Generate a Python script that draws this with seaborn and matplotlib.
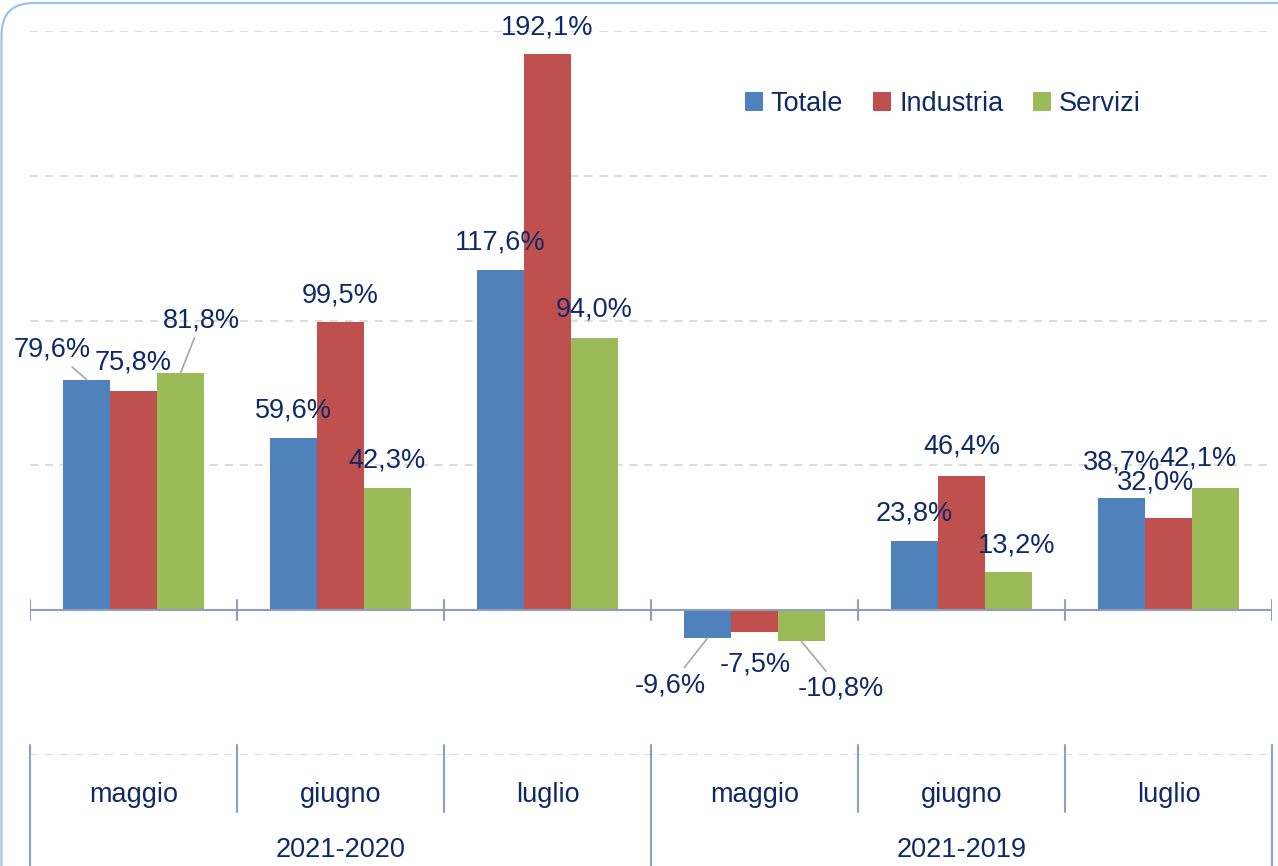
import matplotlib
matplotlib.use("Agg")
import matplotlib.pyplot as plt
from matplotlib.patches import FancyBboxPatch
import seaborn as sns
import pandas as pd

# --- data ---
months = ["maggio", "giugno", "luglio", "maggio", "giugno", "luglio"]
periods = ["2021-2020", "2021-2019"]
series = ["Totale", "Industria", "Servizi"]
totale = [79.6, 59.6, 117.6, -9.6, 23.8, 38.7]
industria = [75.8, 99.5, 192.1, -7.5, 46.4, 32.0]
servizi = [81.8, 42.3, 94.0, -10.8, 13.2, 42.1]

colors = ["#4F81BD", "#C0504D", "#9BBB59"]
text_col = "#0E2A66"
axis_col = "#8EA0BA"
fs = 19.5

keys = [f"{periods[i // 3]} {m}" for i, m in enumerate(months)]
rows = []
for name, vals in zip(series, [totale, industria, servizi]):
    for k, v in zip(keys, vals):
        rows.append({"key": k, "serie": name, "val": v})
df = pd.DataFrame(rows)

sns.set_style("white")
plt.rcParams["font.family"] = ["Liberation Sans", "DejaVu Sans"]

fig = plt.figure(figsize=(12.78, 8.66), dpi=100)
ax = fig.add_axes([30 / 1278, 1 - 755 / 866, 1242 / 1278, 724 / 866])

sns.barplot(data=df, x="key", y="val", hue="serie", order=keys, hue_order=series,
            palette=colors, width=0.68, saturation=1, errorbar=None,
            linewidth=0, ax=ax)

ax.set_xlim(-0.5, 5.5)
ax.set_ylim(-50, 200)
for s in ax.spines.values():
    s.set_visible(False)
ax.set_xticks([])
ax.set_yticks([])
ax.set_xlabel("")
ax.set_ylabel("")

# dashed gridlines
for g in [-50, 50, 100, 150, 200]:
    ax.axhline(g, color="#D9D9D9", lw=1.3, dashes=(4.5, 3.8), zorder=0)

# zero axis with ticks at group boundaries
ax.axhline(0, color=axis_col, lw=1.5, zorder=3)
for i in range(7):
    b = -0.5 + i
    ax.plot([b, b], [-3.5, 3.5], color=axis_col, lw=1.5, zorder=3)
    low = -95 if i in (0, 3, 6) else -69.7
    ax.plot([b, b], [-46.6, low], color=axis_col, lw=1.5, clip_on=False)

# category labels
for i, m in enumerate(months):
    ax.text(i, -63.8, m, ha="center", va="center", fontsize=fs, color=text_col,
            clip_on=False)
for j, p in enumerate(periods):
    ax.text(1 + 3 * j, -82.8, p, ha="center", va="center", fontsize=fs,
            color=text_col, clip_on=False)

# value labels: offsets in pixels (dx, dy) from bar end
offsets = [
    [(-34, 30), (0, 27), (0, 27), (-37, -47), (0, 28), (0, 36)],
    [(0, 28), (0, 27), (0, 26), (1, -33), (0, 29), (-13, 35)],
    [(21, 53), (0, 27), (0, 28), (39, -47), (8, 26), (-17, 30)],
]
leaders = {(0, 0), (2, 0), (0, 3), (2, 3)}
for si, cont in enumerate(ax.containers):
    for bi, bar in enumerate(cont):
        v = [totale, industria, servizi][si][bi]
        x = bar.get_x() + bar.get_width() / 2
        dx, dy = offsets[si][bi]
        lab = f"{v:.1f}%".replace(".", ",")
        arrow = None
        if (si, bi) in leaders:
            arrow = dict(arrowstyle="-", color="#A6A6A6", lw=1.2,
                         shrinkA=1, shrinkB=0)
        ax.annotate(lab, xy=(x, v), xytext=(dx * 0.72, dy * 0.72),
                    textcoords="offset points", ha="center", va="center",
                    fontsize=fs, color=text_col, arrowprops=arrow, zorder=5)

# legend
h, l = ax.get_legend_handles_labels()
ax.legend(h, l, ncol=3, frameon=False, loc="center",
          bbox_to_anchor=(0.735, 0.899), fontsize=fs, labelcolor=text_col,
          handlelength=0.66, handleheight=0.66, handletextpad=0.3,
          columnspacing=1.1)

# rounded frame
frame = FancyBboxPatch((0.015, -1.0), 14, 9.63,
                       boxstyle="round,pad=0,rounding_size=0.32",
                       transform=fig.dpi_scale_trans, fill=False,
                       edgecolor="#9DC3E6", lw=1.6)
fig.patches.append(frame)

fig.savefig("out.png", dpi=100)
